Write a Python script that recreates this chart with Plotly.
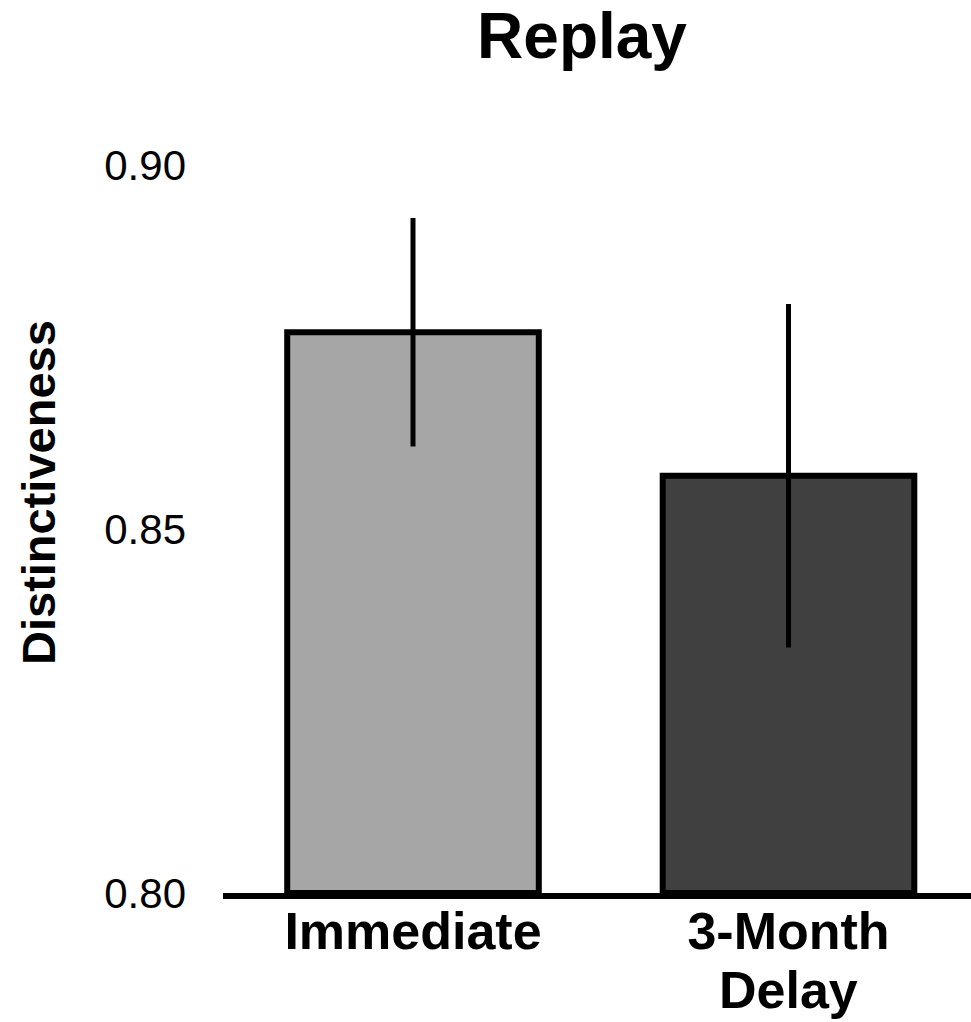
import plotly.graph_objects as go

categories = ["Immediate", "3-Month"]
category_second_line = ["", "Delay"]
values = [0.877, 0.8573]
errors = [0.0157, 0.0236]
colors = ["#a6a6a6", "#404040"]
y_ticks = [0.80, 0.85, 0.90]
y_ticktext = ["0.80", "0.85", "0.90"]

FONT = "Liberation Sans, Arial, sans-serif"

fig = go.Figure()
fig.add_trace(go.Bar(
    x=[0, 1],
    y=[v - 0.8 for v in values],
    base=0.8,
    width=0.67,
    marker=dict(color=colors, line=dict(color="black", width=6)),
    error_y=dict(type="data", array=errors, visible=True, color="black",
                 thickness=5, width=0),
    showlegend=False,
))

annotations = [dict(
    text="<b>Distinctiveness</b>", textangle=-90,
    xref="paper", yref="paper",
    x=-(223 - 38) / 748, y=(893 - 493) / 801,
    xanchor="center", yanchor="middle", showarrow=False,
    font=dict(family=FONT, size=47, color="black"),
)]
for i, t in enumerate(category_second_line):
    if t:
        annotations.append(dict(
            text="<b>%s</b>" % t, xref="x", yref="paper",
            x=i, y=-(990 - 893) / 801, xanchor="center", yanchor="middle",
            showarrow=False, font=dict(family=FONT, size=52, color="black"),
        ))

fig.update_layout(
    width=971, height=1022,
    margin=dict(l=223, r=0, t=92, b=129, autoexpand=False),
    plot_bgcolor="white", paper_bgcolor="white",
    title=dict(text="<b>Replay</b>", x=582/971, xanchor="center", xref="container",
               y=1 - 36/1022, yanchor="middle", yref="container",
               font=dict(family=FONT, size=64, color="black")),
    xaxis=dict(
        range=[-0.506, 1.486],
        tickmode="array", tickvals=[0, 1],
        ticktext=["<b>%s</b>" % c for c in categories],
        tickfont=dict(family=FONT, size=52, color="black"),
        showline=True, linewidth=6, linecolor="black",
        showgrid=False, zeroline=False, ticks="",
        ticklabelstandoff=-12, automargin=False,
    ),
    yaxis=dict(
        range=[0.80, 0.91],
        tickmode="array", tickvals=y_ticks, ticktext=y_ticktext,
        tickfont=dict(family=FONT, size=42, color="black"),
        showline=False, showgrid=False, zeroline=False, ticks="",
        ticklabelstandoff=36, automargin=False,
    ),
    annotations=annotations,
)

fig.write_html("out.html", config={"displayModeBar": False},
               post_script="document.body.style.margin='0';")
